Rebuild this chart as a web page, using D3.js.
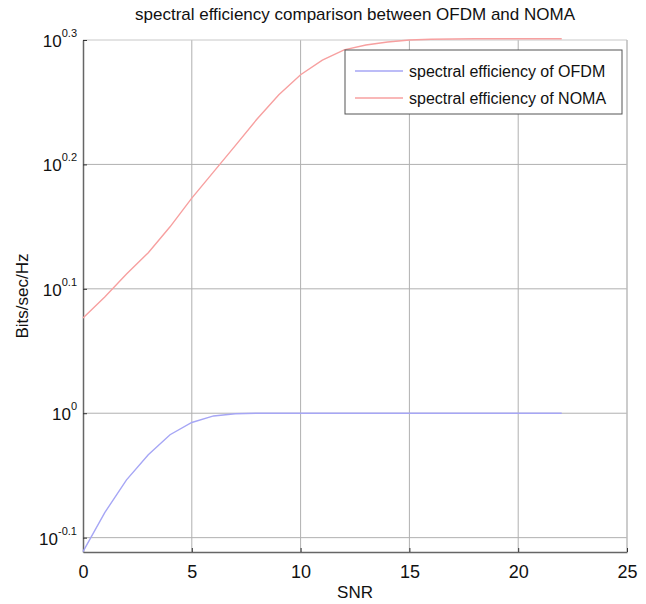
<!DOCTYPE html>
<html>
<head>
<meta charset="utf-8">
<script src="https://cdn.jsdelivr.net/npm/d3@7"></script>
<style>
  body { margin: 0; background: #fff; }
  text { font-family: "Liberation Sans", Arial, sans-serif; fill: #111; }
</style>
</head>
<body>
<div id="chart"></div>
<script>
// SNR values (dB) shared by both curves
var snr = [0, 1, 2, 3, 4, 5, 6, 7, 8, 9, 10, 11, 12, 13, 14, 15, 16, 17, 18, 19, 20, 21, 22];

// spectral efficiency
var ofdm = [0.774, 0.832, 0.884, 0.926, 0.961, 0.983, 0.995, 0.999, 1.0, 1.0, 1.0, 1.0, 1.0, 1.0, 1.0, 1.0, 1.0, 1.0, 1.0, 1.0, 1.0, 1.0, 1.0];
var noma = [1.193, 1.240, 1.294, 1.346, 1.412, 1.489, 1.563, 1.641, 1.724, 1.803, 1.871, 1.922, 1.959, 1.977, 1.988, 1.995, 1.998, 1.999, 2.0, 2.0, 2.0, 2.0, 2.0];

var xTicks = [0, 5, 10, 15, 20, 25];
var yExps = ["-0.1", "0", "0.1", "0.2", "0.3"];

var seriesNames = ["spectral efficiency of OFDM", "spectral efficiency of NOMA"];
var seriesColors = ["#a6a6f5", "#f7a0a0"];

var W = 646, H = 604;
var margin = { top: 40, right: 19, bottom: 52, left: 83 };

var svg = d3.select("#chart").append("svg")
    .attr("width", W)
    .attr("height", H);

var x = d3.scaleLinear()
    .domain([0, 25])
    .range([margin.left, W - margin.right]);

var y = d3.scaleLog()
    .domain([0.7735, Math.pow(10, 0.3)])
    .range([H - margin.bottom, margin.top]);

var yTicks = yExps.map(function(e) { return Math.pow(10, +e); });

// grid
svg.append("g")
    .selectAll("line")
    .data(xTicks.slice(1, -1))
    .enter().append("line")
    .attr("x1", d => x(d)).attr("x2", d => x(d))
    .attr("y1", margin.top).attr("y2", H - margin.bottom)
    .attr("stroke", "#b0b0b0")
    .attr("stroke-width", 1);

svg.append("g")
    .selectAll("line")
    .data(yTicks.slice(0, -1))
    .enter().append("line")
    .attr("x1", margin.left).attr("x2", W - margin.right)
    .attr("y1", d => y(d)).attr("y2", d => y(d))
    .attr("stroke", "#b0b0b0")
    .attr("stroke-width", 1);

// box
svg.append("line")
    .attr("x1", margin.left).attr("x2", W - margin.right)
    .attr("y1", margin.top).attr("y2", margin.top)
    .attr("stroke", "#c8c8c8");
svg.append("line")
    .attr("x1", W - margin.right).attr("x2", W - margin.right)
    .attr("y1", margin.top).attr("y2", H - margin.bottom)
    .attr("stroke", "#bbbbbb").attr("stroke-width", 1.5);

// axes with inward ticks
var xAxis = svg.append("g")
    .attr("transform", "translate(0," + (H - margin.bottom) + ")")
    .call(d3.axisBottom(x).tickValues(xTicks).tickSizeInner(-4).tickSizeOuter(0).tickPadding(13));
xAxis.select(".domain").attr("stroke", "#666").attr("stroke-width", 1.5);
xAxis.selectAll(".tick line").attr("stroke", "#333");
xAxis.selectAll("text")
    .style("font-size", "18px")
    .style("font-family", "'Liberation Sans', Arial, sans-serif")
    .attr("fill", "#111");

var yAxis = svg.append("g")
    .attr("transform", "translate(" + margin.left + ",0)")
    .call(d3.axisLeft(y).tickValues(yTicks).tickSizeInner(-4).tickSizeOuter(0).tickFormat(""));
yAxis.select(".domain").attr("stroke", "#666").attr("stroke-width", 1.5);
yAxis.selectAll(".tick line").attr("stroke", "#333");

// y tick labels as 10^exp
var ylab = svg.append("g")
    .selectAll("text")
    .data(yExps)
    .enter().append("text")
    .attr("x", 77)
    .attr("y", d => y(Math.pow(10, +d)) + 7)
    .attr("text-anchor", "end")
    .style("font-size", "17px");
ylab.append("tspan").text("10");
ylab.append("tspan")
    .attr("dy", -10)
    .style("font-size", "11px")
    .text(d => d);

// curves
var line = d3.line()
    .x((d, i) => x(snr[i]))
    .y(d => y(d));

svg.append("path")
    .datum(ofdm)
    .attr("d", line)
    .attr("fill", "none")
    .attr("stroke", seriesColors[0])
    .attr("stroke-width", 1.4);

svg.append("path")
    .datum(noma)
    .attr("d", line)
    .attr("fill", "none")
    .attr("stroke", seriesColors[1])
    .attr("stroke-width", 1.4);

// legend
var lg = svg.append("g").attr("transform", "translate(345,50)");
lg.append("rect")
    .attr("width", 277).attr("height", 64)
    .attr("fill", "#fff")
    .attr("stroke", "#555")
    .attr("stroke-width", 1);
seriesNames.forEach(function(name, i) {
    var cy = 21 + i * 27;
    lg.append("line")
        .attr("x1", 10).attr("x2", 58)
        .attr("y1", cy).attr("y2", cy)
        .attr("stroke", seriesColors[i])
        .attr("stroke-width", 1.4);
    lg.append("text")
        .attr("x", 64).attr("y", cy + 6)
        .style("font-size", "16px")
        .text(name);
});

// titles
svg.append("text")
    .attr("x", (margin.left + W - margin.right) / 2)
    .attr("y", 20)
    .attr("text-anchor", "middle")
    .style("font-size", "17px")
    .text("spectral efficiency comparison between OFDM and NOMA");

svg.append("text")
    .attr("x", (margin.left + W - margin.right) / 2)
    .attr("y", 598)
    .attr("text-anchor", "middle")
    .style("font-size", "17px")
    .text("SNR");

svg.append("text")
    .attr("transform", "translate(28," + ((margin.top + H - margin.bottom) / 2) + ") rotate(-90)")
    .attr("text-anchor", "middle")
    .style("font-size", "17px")
    .text("Bits/sec/Hz");
</script>
</body>
</html>
